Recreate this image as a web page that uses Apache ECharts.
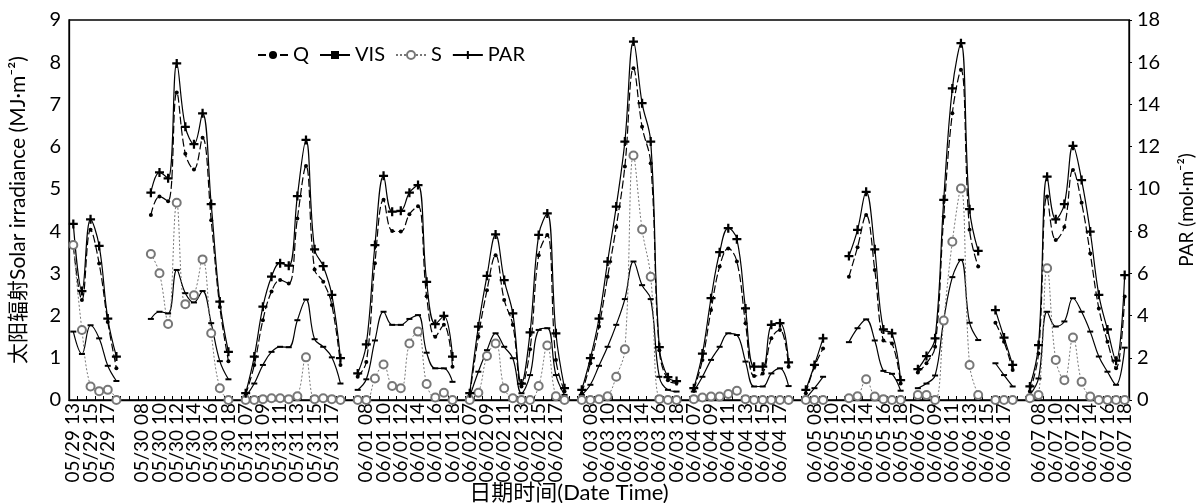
<!DOCTYPE html>
<html>
<head>
<meta charset="utf-8">
<script src="https://cdn.jsdelivr.net/npm/echarts@6/dist/echarts.min.js"></script>
<style>html,body{margin:0;padding:0;background:#fff;}#c{width:1204px;height:503px;}</style>
</head>
<body>
<div id="c"></div>
<script>
// Days on the category axis; the first day starts at 13:00, others 07–18, one blank slot between days
const days = ['05/29','05/30','05/31','06/01','06/02','06/03','06/04','06/05','06/06','06/07'];
const firstDayHours = ['13','14','15','16','17','18'];
const dayHours = ['07','08','09','10','11','12','13','14','15','16','17','18'];

// Series values per slot (null = no data / separator)
const Q = [
  3.65,2.37,4.03,3.23,1.85,0.75, null,
  null,null,4.38,4.82,4.71,7.28,5.83,5.46,6.21,4.26,2.20,0.92, null,
  0.12,0.83,1.89,2.57,2.84,2.76,4.30,5.54,3.09,2.80,2.25,0.83, null,
  0.55,0.90,3.24,4.74,4.00,3.99,4.40,4.59,2.46,1.50,1.78,0.79, null,
  0.12,1.50,2.60,3.43,2.37,1.78,0.32,1.20,3.43,3.91,0.95,0.20, null,
  0.16,0.87,1.74,2.92,4.10,5.53,7.86,6.47,5.61,1.18,0.47,0.40, null,
  0.24,0.95,2.13,3.16,3.59,3.28,1.82,0.57,0.63,1.46,1.66,0.79, null,
  0.16,0.79,1.22,null,null,2.92,3.62,4.38,3.08,1.41,1.34,0.39, null,
  0.65,0.87,1.26,4.34,6.79,7.82,4.03,3.16,null,1.83,1.38,0.71, null,
  0.20,1.10,4.82,3.79,4.10,5.45,4.67,3.47,2.17,1.38,0.75,2.45
];
const VIS = [
  1.62,1.09,1.77,1.46,0.81,0.45, null,
  null,null,1.92,2.09,2.05,3.08,2.53,2.31,2.58,1.82,0.92,0.49, null,
  0.08,0.39,0.83,1.14,1.26,1.25,1.89,2.38,1.44,1.26,1.01,0.39, null,
  0.24,0.49,1.41,2.09,1.78,1.78,1.92,2.01,1.12,0.75,0.75,0.43, null,
  0.08,0.67,1.18,1.58,1.26,0.99,0.16,0.59,1.66,1.70,0.59,0.12, null,
  0.12,0.36,0.81,1.26,1.78,2.39,3.28,2.72,2.39,0.55,0.24,0.20, null,
  0.20,0.55,0.95,1.26,1.58,1.54,0.91,0.32,0.32,0.63,0.75,0.33, null,
  0.04,0.28,0.55,null,null,1.37,1.70,1.91,1.41,0.69,0.62,0.22, null,
  0.28,0.39,0.58,1.89,2.91,3.32,1.83,1.42,null,0.87,0.59,0.32, null,
  0.12,0.51,2.09,1.74,1.86,2.41,2.09,1.62,1.03,0.67,0.36,1.24
];
const S = [
  3.67,1.66,0.32,0.21,0.24,0.00, null,
  null,null,3.46,3.00,1.80,4.67,2.27,2.48,3.33,1.58,0.28,0.00, null,
  0.00,0.00,0.02,0.04,0.04,0.02,0.09,1.01,0.02,0.04,0.02,0.00, null,
  0.00,0.00,0.51,0.84,0.33,0.28,1.34,1.62,0.38,0.06,0.17,0.00, null,
  0.00,0.17,1.04,1.34,0.28,0.04,0.00,0.00,0.33,1.29,0.09,0.00, null,
  0.00,0.00,0.02,0.09,0.55,1.20,5.79,4.04,2.92,0.02,0.00,0.00, null,
  0.02,0.06,0.08,0.08,0.14,0.22,0.02,0.00,0.00,0.00,0.00,0.00, null,
  0.00,0.00,0.00,null,null,0.04,0.09,0.49,0.08,0.02,0.00,0.00, null,
  0.12,0.12,0.00,1.88,3.75,5.01,0.83,0.12,null,0.00,0.00,0.00, null,
  0.04,0.12,3.12,0.95,0.47,1.48,0.43,0.08,0.00,0.00,0.00,0.00
];
// PAR in mol·m^-2 (right axis)
const PAR = [
  8.34,5.16,8.56,7.30,3.86,2.06, null,
  null,null,9.82,10.78,10.50,15.94,12.94,12.12,13.58,9.28,4.66,2.28, null,
  0.32,2.06,4.42,5.84,6.48,6.36,9.66,12.32,7.14,6.34,4.98,1.98, null,
  1.26,2.64,7.34,10.62,8.92,8.96,9.82,10.18,5.60,3.60,3.98,2.06, null,
  0.32,3.48,5.88,7.84,5.68,4.10,0.78,3.20,7.82,8.84,3.16,0.56, null,
  0.48,1.98,3.86,6.56,9.16,12.24,16.98,14.06,12.24,2.50,1.08,0.90, null,
  0.56,2.20,4.82,7.00,8.14,7.62,4.34,1.58,1.58,3.56,3.64,1.78, null,
  0.48,1.66,2.92,null,null,6.82,8.06,9.86,7.14,3.34,3.16,0.94, null,
  1.46,2.08,2.92,9.48,14.76,16.90,9.04,7.06,null,4.26,2.96,1.66, null,
  0.64,2.60,10.58,8.56,9.28,12.04,10.42,7.98,4.98,3.34,1.86,5.92
];

const leftTicks = [0,9,1];   // min, max, interval
const rightTicks = [0,18,2];

const categories = [];
days.forEach((d, k) => {
  const hrs = k === 0 ? firstDayHours : dayHours;
  hrs.forEach(h => categories.push(d + ' ' + h));
  if (k < days.length - 1) categories.push('');
});

const FONT = "Lato, 'Noto Sans CJK SC', sans-serif";
const plusPath = 'path://M3,0h2v3h3v2h-3v3h-2v-3h-3v-2h3z';

const chart = echarts.init(document.getElementById('c'), null, {renderer: 'canvas'});
chart.setOption({
  animation: false,
  backgroundColor: '#fff',
  textStyle: {fontFamily: FONT, color: '#000'},
  grid: {left: 68, right: 57, top: 20, bottom: 103, show: true, borderColor: '#000', borderWidth: 1.3},
  legend: {
    left: 252, top: 40, itemWidth: 30, itemHeight: 10, itemGap: 10,
    textStyle: {fontSize: 20, color: '#000', fontFamily: FONT},
    data: ['Q', 'VIS', 'S', 'PAR']
  },
  xAxis: {
    type: 'category', data: categories, boundaryGap: true,
    axisLine: {lineStyle: {color: '#000', width: 1.3}},
    axisTick: {show: true, interval: 0, inside: true, length: 4, lineStyle: {color: '#000'}},
    axisLabel: {interval: 0, rotate: 90, fontSize: 19, color: '#000', margin: 3, fontFamily: FONT,
                formatter: (v, i) => (i % 2 === 0 ? v : '')}
  },
  yAxis: [{
    type: 'value', min: leftTicks[0], max: leftTicks[1], interval: leftTicks[2],
    name: '太阳辐射Solar irradiance (MJ·m⁻²)', nameLocation: 'middle', nameGap: 40, nameRotate: 90,
    nameTextStyle: {fontSize: 21, color: '#000', fontFamily: FONT},
    axisLine: {show: true, lineStyle: {color: '#000', width: 1.3}},
    axisTick: {show: false}, splitLine: {show: false},
    axisLabel: {fontSize: 20, color: '#000', margin: 8, fontFamily: FONT}
  }, {
    type: 'value', min: rightTicks[0], max: rightTicks[1], interval: rightTicks[2], position: 'right',
    name: 'PAR (mol·m⁻²)', nameLocation: 'middle', nameGap: 48, nameRotate: 90,
    nameTextStyle: {fontSize: 19, color: '#000', fontFamily: FONT},
    axisLine: {show: true, lineStyle: {color: '#000', width: 1.3}},
    axisTick: {show: true, length: 3, lineStyle: {color: '#000'}}, splitLine: {show: false},
    axisLabel: {fontSize: 20, color: '#000', margin: 8, fontFamily: FONT}
  }],
  graphic: [{
    type: 'text', x: 569, y: 493,
    style: {text: '日期时间(Date Time)', fill: '#000', font: "22px " + FONT, align: 'center', verticalAlign: 'middle'}
  }],
  series: [{
    name: 'Q', type: 'line', data: Q, smooth: 0.4, yAxisIndex: 0,
    symbol: 'circle', symbolSize: 4, showSymbol: true, showAllSymbol: true,
    itemStyle: {color: '#000'}, lineStyle: {color: '#000', width: 1.2, type: [8, 3]}
  }, {
    name: 'VIS', type: 'line', data: VIS, smooth: 0.4, yAxisIndex: 0,
    symbol: 'rect', symbolSize: [6, 2], showSymbol: true, showAllSymbol: true,
    itemStyle: {color: '#000'}, lineStyle: {color: '#000', width: 1.2}
  }, {
    name: 'S', type: 'line', data: S, smooth: 0.4, yAxisIndex: 0,
    symbol: 'emptyCircle', symbolSize: 8, showSymbol: true, showAllSymbol: true,
    itemStyle: {color: '#777', borderWidth: 1.2}, lineStyle: {color: '#777', width: 1, type: [2, 2]}
  }, {
    name: 'PAR', type: 'line', data: PAR, smooth: 0.4, yAxisIndex: 1,
    symbol: plusPath, symbolSize: 9, showSymbol: true, showAllSymbol: true,
    itemStyle: {color: '#000'}, lineStyle: {color: '#000', width: 1.2}
  }]
});
</script>
</body>
</html>
